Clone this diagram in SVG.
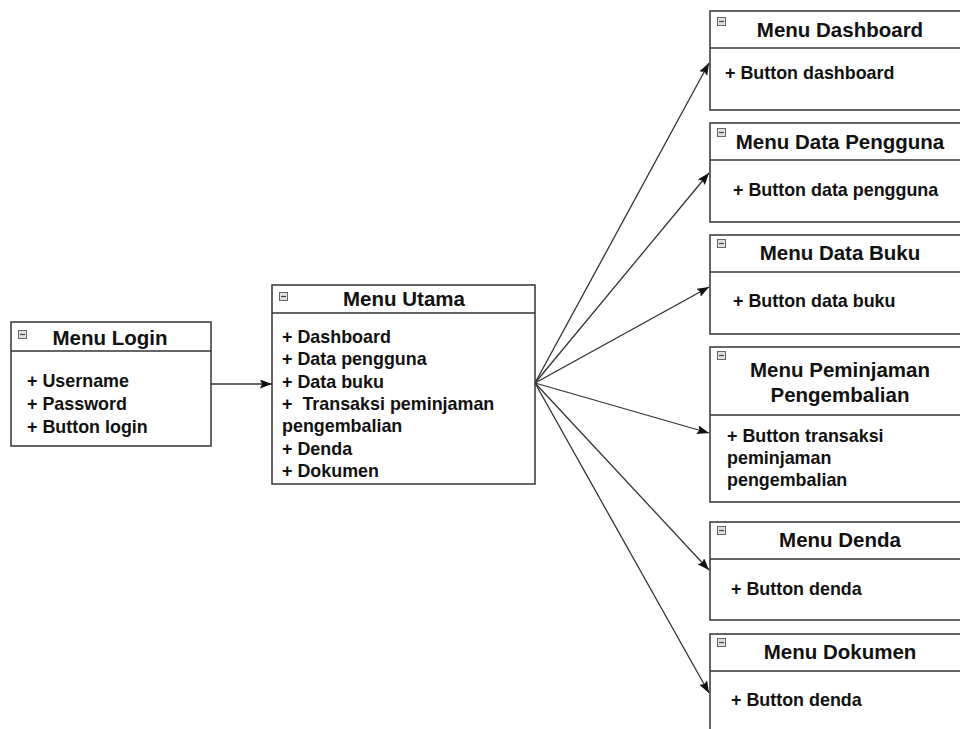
<svg xmlns="http://www.w3.org/2000/svg" width="960" height="729" viewBox="0 0 960 729">
<style>
.box{fill:#fff;stroke:#333;stroke-width:1.5}
.div{stroke:#333;stroke-width:1.5}
.t{font-family:"Liberation Sans",Arial,sans-serif;font-weight:bold;font-size:20.5px;fill:#111;text-anchor:middle}
.i{font-family:"Liberation Sans",Arial,sans-serif;font-weight:bold;font-size:17.9px;fill:#111}
.ic{fill:#e0e0e0;stroke:#666;stroke-width:1}
.icl{stroke:#444;stroke-width:1.2}
.c{fill:none;stroke:#333;stroke-width:1.3;marker-end:url(#ah)}
</style>
<defs>
<marker id="ah" markerWidth="13" markerHeight="10" refX="12" refY="4.5" orient="auto" markerUnits="userSpaceOnUse">
<path d="M0,0 L12,4.5 L0,9 L2,4.5 z" fill="#111"/>
</marker>
</defs>
<rect width="960" height="729" fill="#fff"/>

<g id="connectors">
<line class="c" x1="211" y1="384" x2="272" y2="384"/>
<line class="c" x1="535" y1="383" x2="709" y2="63"/>
<line class="c" x1="535" y1="383" x2="709" y2="173"/>
<line class="c" x1="535" y1="383" x2="709" y2="287"/>
<line class="c" x1="535" y1="383" x2="709" y2="433"/>
<line class="c" x1="535" y1="383" x2="709" y2="570"/>
<line class="c" x1="535" y1="383" x2="709" y2="693"/>
</g>

<g id="menu-login">
<rect class="box" x="11" y="322" width="200" height="124"/>
<line class="div" x1="11" y1="351" x2="211" y2="351"/>
<rect class="ic" x="18.5" y="330.5" width="8" height="8"/><line class="icl" x1="20" y1="334.5" x2="25" y2="334.5"/>
<text class="t" x="110" y="345">Menu Login</text>
<text class="i" x="27" y="387">+ Username</text>
<text class="i" x="27" y="410">+ Password</text>
<text class="i" x="27" y="433">+ Button login</text>
</g>

<g id="menu-utama">
<rect class="box" x="272" y="285" width="263" height="199"/>
<line class="div" x1="272" y1="313" x2="535" y2="313"/>
<rect class="ic" x="279.5" y="292.5" width="8" height="8"/><line class="icl" x1="281" y1="296.5" x2="286" y2="296.5"/>
<text class="t" x="404" y="306">Menu Utama</text>
<text class="i" x="282" y="343">+ Dashboard</text>
<text class="i" x="282" y="365">+ Data pengguna</text>
<text class="i" x="282" y="388">+ Data buku</text>
<text class="i" x="282" y="410" xml:space="preserve">+  Transaksi peminjaman</text>
<text class="i" x="282" y="432">pengembalian</text>
<text class="i" x="282" y="455">+ Denda</text>
<text class="i" x="282" y="477">+ Dokumen</text>
</g>

<g id="menu-dashboard">
<rect class="box" x="710" y="11" width="262" height="99"/>
<line class="div" x1="710" y1="48" x2="972" y2="48"/>
<rect class="ic" x="717.5" y="17.5" width="8" height="8"/><line class="icl" x1="719" y1="21.5" x2="724" y2="21.5"/>
<text class="t" x="840" y="37">Menu Dashboard</text>
<text class="i" x="725" y="79">+ Button dashboard</text>
</g>

<g id="menu-data-pengguna">
<rect class="box" x="710" y="123" width="262" height="99"/>
<line class="div" x1="710" y1="160" x2="972" y2="160"/>
<rect class="ic" x="717.5" y="128.5" width="8" height="8"/><line class="icl" x1="719" y1="132.5" x2="724" y2="132.5"/>
<text class="t" x="840" y="149">Menu Data Pengguna</text>
<text class="i" x="733" y="196">+ Button data pengguna</text>
</g>

<g id="menu-data-buku">
<rect class="box" x="710" y="235" width="262" height="99"/>
<line class="div" x1="710" y1="272" x2="972" y2="272"/>
<rect class="ic" x="717.5" y="239.5" width="8" height="8"/><line class="icl" x1="719" y1="243.5" x2="724" y2="243.5"/>
<text class="t" x="840" y="260">Menu Data Buku</text>
<text class="i" x="733" y="307">+ Button data buku</text>
</g>

<g id="menu-peminjaman">
<rect class="box" x="710" y="347" width="262" height="155"/>
<line class="div" x1="710" y1="415" x2="972" y2="415"/>
<rect class="ic" x="717.5" y="351.5" width="8" height="8"/><line class="icl" x1="719" y1="355.5" x2="724" y2="355.5"/>
<text class="t" x="840" y="377">Menu Peminjaman</text>
<text class="t" x="840" y="402">Pengembalian</text>
<text class="i" x="727" y="442">+ Button transaksi</text>
<text class="i" x="727" y="464">peminjaman</text>
<text class="i" x="727" y="486">pengembalian</text>
</g>

<g id="menu-denda">
<rect class="box" x="710" y="522" width="262" height="98"/>
<line class="div" x1="710" y1="559" x2="972" y2="559"/>
<rect class="ic" x="717.5" y="526.5" width="8" height="8"/><line class="icl" x1="719" y1="530.5" x2="724" y2="530.5"/>
<text class="t" x="840" y="547">Menu Denda</text>
<text class="i" x="731" y="595">+ Button denda</text>
</g>

<g id="menu-dokumen">
<rect class="box" x="710" y="634" width="262" height="130"/>
<line class="div" x1="710" y1="671" x2="972" y2="671"/>
<rect class="ic" x="717.5" y="638.5" width="8" height="8"/><line class="icl" x1="719" y1="642.5" x2="724" y2="642.5"/>
<text class="t" x="840" y="659">Menu Dokumen</text>
<text class="i" x="731" y="706">+ Button denda</text>
</g>
</svg>
